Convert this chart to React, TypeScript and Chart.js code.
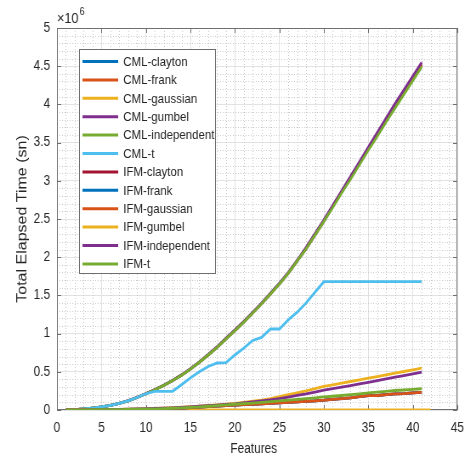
import { useEffect, useRef } from "react";
import { Chart, registerables } from "chart.js";

Chart.register(...registerables);

// ---------- data (values in units of 10^6 seconds) ----------
const features = [1,2,3,4,5,6,7,8,9,10,11,12,13,14,15,16,17,18,19,20,21,22,23,24,25,26,27,28,29,30,31,32,33,34,35,36,37,38,39,40,41];
const featuresExt = [1,2,3,4,5,6,7,8,9,10,11,12,13,14,15,16,17,18,19,20,21,22,23,24,25,26,27,28,29,30,31,32,33,34,35,36,37,38,39,40,41,42];

const cmlClayton = [0.002,0.006,0.013,0.025,0.04,0.06,0.087,0.12,0.163,0.213,0.265,0.322,0.385,0.455,0.535,0.625,0.72,0.82,0.93,1.04,1.15,1.27,1.39,1.52,1.65,1.79,1.95,2.11,2.29,2.47,2.66,2.85,3.04,3.23,3.42,3.61,3.80,3.98,4.16,4.34,4.52];
const cmlFrank = [0.002,0.006,0.013,0.025,0.04,0.06,0.087,0.12,0.163,0.213,0.265,0.322,0.385,0.455,0.535,0.625,0.72,0.82,0.93,1.04,1.15,1.27,1.39,1.52,1.65,1.79,1.95,2.11,2.29,2.47,2.66,2.85,3.04,3.23,3.42,3.61,3.80,3.98,4.16,4.34,4.52];
const cmlGaussian = [0,0,0,0,0,0,0,0,0,0,0,0,0,0,0,0,0,0,0,0,0,0,0,0,0,0,0,0,0,0,0,0,0,0,0,0,0,0,0,0,0,0];
const cmlGumbel = [0.002,0.006,0.013,0.025,0.04,0.06,0.088,0.122,0.165,0.215,0.268,0.325,0.389,0.46,0.54,0.631,0.727,0.828,0.94,1.05,1.16,1.28,1.40,1.53,1.66,1.80,1.96,2.13,2.31,2.49,2.68,2.87,3.06,3.25,3.44,3.63,3.82,4.01,4.19,4.37,4.55];
const cmlIndependent = [0.002,0.006,0.013,0.025,0.04,0.06,0.087,0.12,0.163,0.213,0.265,0.322,0.385,0.455,0.535,0.625,0.72,0.82,0.93,1.04,1.15,1.27,1.39,1.52,1.65,1.79,1.95,2.11,2.29,2.47,2.65,2.84,3.02,3.21,3.40,3.58,3.77,3.95,4.13,4.31,4.49];
const cmlT = [0.002,0.006,0.013,0.025,0.04,0.06,0.087,0.12,0.163,0.213,0.245,0.245,0.245,0.33,0.42,0.50,0.57,0.615,0.62,0.72,0.81,0.91,0.95,1.06,1.06,1.18,1.28,1.40,1.54,1.68,1.68,1.68,1.68,1.68,1.68,1.68,1.68,1.68,1.68,1.68,1.68];
const ifmClayton = [0,0.001,0.002,0.003,0.004,0.005,0.006,0.007,0.009,0.011,0.014,0.018,0.022,0.026,0.031,0.037,0.043,0.05,0.057,0.065,0.07,0.075,0.08,0.087,0.095,0.1,0.106,0.113,0.12,0.128,0.14,0.15,0.16,0.175,0.188,0.19,0.2,0.21,0.215,0.225,0.232];
const ifmFrank = [0,0.001,0.002,0.003,0.004,0.005,0.006,0.007,0.009,0.011,0.014,0.018,0.022,0.026,0.031,0.037,0.043,0.05,0.057,0.065,0.07,0.075,0.08,0.087,0.095,0.1,0.106,0.113,0.12,0.128,0.14,0.15,0.16,0.175,0.188,0.19,0.2,0.21,0.215,0.225,0.232];
const ifmGaussian = [0,0.001,0.002,0.003,0.004,0.005,0.006,0.007,0.009,0.011,0.014,0.018,0.022,0.026,0.031,0.037,0.043,0.05,0.057,0.065,0.07,0.075,0.08,0.087,0.095,0.1,0.106,0.113,0.12,0.128,0.14,0.15,0.16,0.175,0.188,0.19,0.2,0.21,0.215,0.225,0.232];
const ifmGumbel = [0,0.001,0.002,0.003,0.004,0.006,0.008,0.01,0.013,0.016,0.02,0.025,0.03,0.036,0.043,0.051,0.06,0.068,0.076,0.085,0.1,0.115,0.13,0.15,0.175,0.2,0.225,0.25,0.28,0.31,0.33,0.352,0.373,0.394,0.416,0.438,0.46,0.482,0.504,0.526,0.548];
const ifmIndependent = [0,0.001,0.002,0.003,0.004,0.006,0.008,0.01,0.013,0.016,0.02,0.024,0.029,0.035,0.041,0.049,0.057,0.065,0.073,0.08,0.092,0.105,0.118,0.133,0.15,0.17,0.19,0.21,0.235,0.26,0.28,0.3,0.32,0.342,0.363,0.385,0.407,0.429,0.451,0.473,0.495];
const ifmT = [0,0.001,0.002,0.003,0.004,0.005,0.006,0.008,0.01,0.012,0.015,0.019,0.023,0.028,0.034,0.041,0.049,0.057,0.066,0.075,0.083,0.091,0.1,0.11,0.12,0.13,0.14,0.15,0.16,0.172,0.18,0.19,0.2,0.212,0.225,0.235,0.245,0.255,0.262,0.27,0.278];

const seriesNames = ["CML-clayton","CML-frank","CML-gaussian","CML-gumbel","CML-independent","CML-t","IFM-clayton","IFM-frank","IFM-gaussian","IFM-gumbel","IFM-independent","IFM-t"];
const seriesValues = [cmlClayton,cmlFrank,cmlGaussian,cmlGumbel,cmlIndependent,cmlT,ifmClayton,ifmFrank,ifmGaussian,ifmGumbel,ifmIndependent,ifmT];
const seriesX = [features,features,featuresExt,features,features,features,features,features,features,features,features,features];
const seriesColors = ["#0072BD","#D95319","#EDB120","#7E2F8E","#77AC30","#4DBEEE","#A2142F","#0072BD","#D95319","#EDB120","#7E2F8E","#77AC30"];

const xTicks = [0,5,10,15,20,25,30,35,40,45];
const yTicks = [0,0.5,1,1.5,2,2.5,3,3.5,4,4.5,5];

// ---------- layout ----------
const K = 0.85; // horizontal compression of the figure
const W = Math.round(465 / K);
const H = 455;
const FONT = "'Liberation Sans', Arial, Helvetica, sans-serif";
const TEXT = "#262626";

const decor = {
  id: "decor",
  beforeDatasetsDraw(chart: any) {
    const { ctx, chartArea: a, scales } = chart;
    const x = scales.x, y = scales.y;
    ctx.save();
    // minor dotted grid
    ctx.strokeStyle = "#c9c9c9";
    ctx.lineWidth = 1;
    ctx.setLineDash([1, 2]);
    for (let v = 1; v < 45; v++) {
      if (v % 5 === 0) continue;
      const px = Math.round(x.getPixelForValue(v)) + 0.5;
      ctx.beginPath(); ctx.moveTo(px, a.top); ctx.lineTo(px, a.bottom); ctx.stroke();
    }
    for (let i = 1; i < 50; i++) {
      if (i % 5 === 0) continue;
      const py = Math.round(y.getPixelForValue(i / 10)) + 0.5;
      ctx.beginPath(); ctx.moveTo(a.left, py); ctx.lineTo(a.right, py); ctx.stroke();
    }
    ctx.setLineDash([]);
    // box
    ctx.strokeStyle = "#6f6f6f";
    ctx.lineWidth = 1;
    ctx.strokeRect(Math.round(a.left) + 0.5, Math.round(a.top) + 0.5, Math.round(a.width) - 1, Math.round(a.height) - 1);
    // tick marks inward
    const tl = 5;
    ctx.beginPath();
    xTicks.forEach((v) => {
      const px = Math.round(x.getPixelForValue(v)) + 0.5;
      ctx.moveTo(px, a.bottom); ctx.lineTo(px, a.bottom - tl);
      ctx.moveTo(px, a.top); ctx.lineTo(px, a.top + tl);
    });
    yTicks.forEach((v) => {
      const py = Math.round(y.getPixelForValue(v)) + 0.5;
      ctx.moveTo(a.left, py); ctx.lineTo(a.left + tl, py);
      ctx.moveTo(a.right, py); ctx.lineTo(a.right - tl, py);
    });
    ctx.stroke();
    ctx.restore();
  },
  afterDatasetsDraw(chart: any) {
    const { ctx, chartArea: a } = chart;
    ctx.save();
    // legend box
    const lx = a.left + 26, ly = a.top + 21, lw = 160, lh = 224;
    ctx.fillStyle = "#ffffff";
    ctx.fillRect(lx, ly, lw, lh);
    ctx.strokeStyle = "#6f6f6f";
    ctx.lineWidth = 1;
    ctx.strokeRect(Math.round(lx) + 0.5, Math.round(ly) + 0.5, lw, lh);
    ctx.font = `13.5px ${FONT}`;
    ctx.textBaseline = "middle";
    ctx.textAlign = "left";
    chart.data.datasets.forEach((ds: any, i: number) => {
      const ry = ly + 12.5 + i * 18.4;
      ctx.strokeStyle = ds.borderColor;
      ctx.lineWidth = 3;
      ctx.beginPath(); ctx.moveTo(lx + 4, ry); ctx.lineTo(lx + 46, ry); ctx.stroke();
      ctx.fillStyle = TEXT;
      ctx.fillText(ds.label, lx + 52, ry + 0.5);
    });
    ctx.restore();
  },
  afterDraw(chart: any) {
    const { ctx, chartArea: a } = chart;
    ctx.save();
    ctx.fillStyle = TEXT;
    // x-axis title
    ctx.font = `14px ${FONT}`;
    ctx.textAlign = "center";
    ctx.textBaseline = "middle";
    ctx.fillText("Features", (a.left + a.right) / 2 - 4, 449);
    // y-axis title
    ctx.save();
    ctx.translate(27, (a.top + a.bottom) / 2);
    ctx.rotate(-Math.PI / 2);
    ctx.font = `16px ${FONT}`;
    ctx.fillText("Total Elapsed Time (sn)", 0, 0);
    ctx.restore();
    // exponent label
    ctx.textAlign = "left";
    ctx.textBaseline = "alphabetic";
    ctx.font = `15px ${FONT}`;
    ctx.fillText("\u00d710", a.left, 23);
    const w = ctx.measureText("\u00d710").width;
    ctx.font = `11px ${FONT}`;
    ctx.fillText("6", a.left + w + 1, 15);
    ctx.restore();
  },
};

export default function App() {
  const ref = useRef<HTMLCanvasElement | null>(null);
  useEffect(() => {
    if (!ref.current) return;
    const n = seriesNames.length;
    const chart = new Chart(ref.current, {
      type: "line",
      data: {
        datasets: seriesNames.map((name, i) => ({
          label: name,
          data: seriesX[i].map((xv, j) => ({ x: xv, y: seriesValues[i][j] })),
          borderColor: seriesColors[i],
          backgroundColor: seriesColors[i],
          borderWidth: 2.8,
          pointRadius: 0,
          tension: 0,
          fill: false,
          order: n - i,
        })),
      },
      options: {
        responsive: false,
        animation: false,
        devicePixelRatio: 1,
        layout: { padding: { top: 28, right: 9, left: 0, bottom: 0 } },
        plugins: { legend: { display: false }, tooltip: { enabled: false } },
        scales: {
          x: {
            type: "linear",
            min: 0,
            max: 45,
            afterFit: (s: any) => { s.height = 45; s.paddingLeft = 0; s.paddingRight = 0; },
            afterBuildTicks: (s: any) => { s.ticks = xTicks.map((v) => ({ value: v })); },
            ticks: { color: TEXT, font: { family: FONT, size: 14 }, padding: 10, maxRotation: 0, callback: (v: any) => String(Number(v)) },
            grid: { color: "#e2e2e2", drawTicks: false },
            border: { display: false },
          },
          y: {
            type: "linear",
            min: 0,
            max: 5,
            afterFit: (s: any) => { s.width = 67; s.paddingTop = 0; s.paddingBottom = 0; },
            afterBuildTicks: (s: any) => { s.ticks = yTicks.map((v) => ({ value: v })); },
            ticks: { color: TEXT, font: { family: FONT, size: 14 }, padding: 8, callback: (v: any) => String(Number(v)) },
            grid: { color: "#e2e2e2", drawTicks: false },
            border: { display: false },
          },
        },
      },
      plugins: [decor],
    });
    return () => chart.destroy();
  }, []);

  return (
    <div style={{ position: "fixed", left: 0, top: 0, width: 465, height: H, overflow: "hidden", background: "#fff" }}>
      <div style={{ width: W, height: H, transform: `scaleX(${K})`, transformOrigin: "0 0" }}>
        <canvas ref={ref} width={W} height={H} style={{ display: "block", width: W, height: H }} />
      </div>
    </div>
  );
}
